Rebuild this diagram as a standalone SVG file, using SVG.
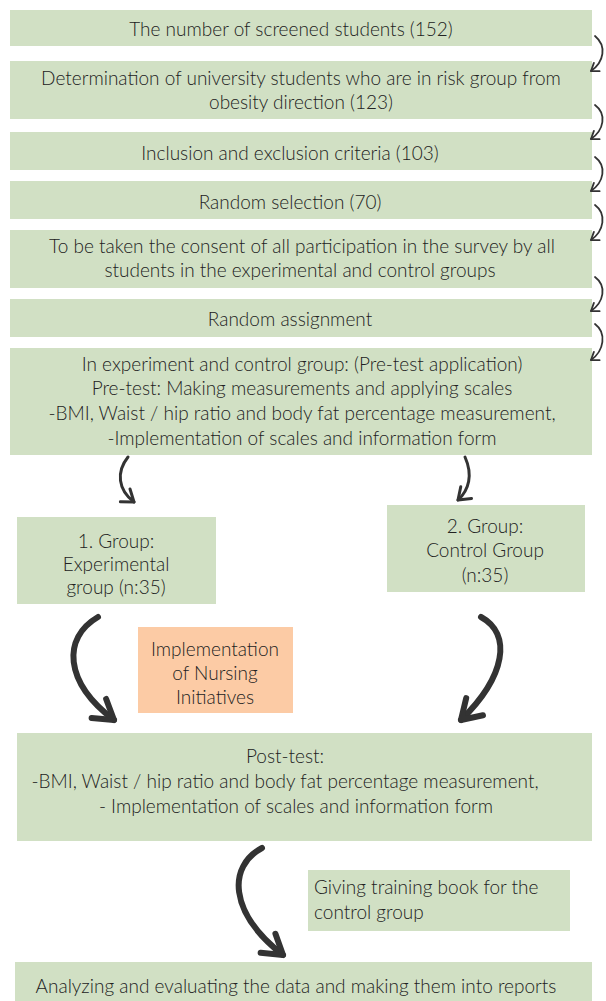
<svg xmlns="http://www.w3.org/2000/svg" width="606" height="1001" viewBox="0 0 606 1001">
  <style>
    .box { fill: #d1e0c4; }
    .note { fill: #fccba5; }
    text { font-family: Lato, "Liberation Sans", sans-serif; font-weight: 300; font-size: 19px; fill: #222; text-anchor: middle; dominant-baseline: central; }
    .left { text-anchor: start; }
    .thin { fill: none; stroke: #333; stroke-width: 1.8; stroke-linecap: round; }
    .mid { fill: none; stroke: #333; stroke-width: 3; stroke-linecap: round; }
    .thick { fill: none; stroke: #333; stroke-width: 6; stroke-linecap: round; }
  </style>
  <defs>
    <marker id="headS" markerUnits="userSpaceOnUse" viewBox="-10 -8 12 16" markerWidth="12" markerHeight="16" refX="0" refY="0" orient="auto">
      <path d="M-7,-5 L0,0 L-7,5" fill="none" stroke="#333" stroke-width="1.8" stroke-linecap="round" stroke-linejoin="round"/>
    </marker>
    <marker id="headM" markerUnits="userSpaceOnUse" viewBox="-14 -12 16 24" markerWidth="16" markerHeight="24" refX="0" refY="0" orient="auto">
      <path d="M-11,-8 L0,0 L-11,8" fill="none" stroke="#333" stroke-width="3" stroke-linecap="round" stroke-linejoin="round"/>
    </marker>
    <marker id="headL" markerUnits="userSpaceOnUse" viewBox="-24 -16 28 32" markerWidth="28" markerHeight="32" refX="0" refY="0" orient="auto">
      <path d="M-19,-12 L0,0 L-19,12" fill="none" stroke="#333" stroke-width="6" stroke-linecap="round" stroke-linejoin="round"/>
    </marker>
  </defs>

  <g id="screened">
    <rect class="box" x="10" y="10" width="582" height="36"/>
    <text x="291" y="28">The number of screened students (152)</text>
  </g>
  <g id="risk-group">
    <rect class="box" x="10" y="61" width="582" height="58"/>
    <text x="301" y="77">Determination of university students who are in risk group from</text>
    <text x="301" y="101">obesity direction (123)</text>
  </g>
  <g id="criteria">
    <rect class="box" x="10" y="132" width="582" height="38"/>
    <text x="290" y="152">Inclusion and exclusion criteria (103)</text>
  </g>
  <g id="random-selection">
    <rect class="box" x="10" y="181" width="582" height="38"/>
    <text x="290" y="201">Random selection (70)</text>
  </g>
  <g id="consent">
    <rect class="box" x="10" y="230" width="582" height="58"/>
    <text x="302" y="245">To be taken the consent of all participation in the survey by all</text>
    <text x="300" y="269">students in the experimental and control groups</text>
  </g>
  <g id="random-assignment">
    <rect class="box" x="10" y="299" width="582" height="38"/>
    <text x="290" y="318">Random assignment</text>
  </g>
  <g id="pre-test">
    <rect class="box" x="10" y="348" width="582" height="107"/>
    <text x="302" y="363">In experiment and control group: (Pre-test application)</text>
    <text x="302" y="387">Pre-test: Making measurements and applying scales</text>
    <text x="302" y="412">-BMI, Waist / hip ratio and body fat percentage measurement,</text>
    <text x="302" y="437">-Implementation of scales and information form</text>
  </g>
  <g id="experimental">
    <rect class="box" x="17" y="517" width="199" height="87"/>
    <text x="116" y="540">1. Group:</text>
    <text x="116" y="563">Experimental</text>
    <text x="116" y="586">group (n:35)</text>
  </g>
  <g id="control">
    <rect class="box" x="387" y="505" width="198" height="87"/>
    <text x="485" y="525">2. Group:</text>
    <text x="485" y="549">Control Group</text>
    <text x="485" y="574">(n:35)</text>
  </g>
  <g id="nursing">
    <rect class="note" x="138" y="627" width="155" height="86"/>
    <text x="215" y="648">Implementation</text>
    <text x="215" y="672">of Nursing</text>
    <text x="215" y="696">Initiatives</text>
  </g>
  <g id="post-test">
    <rect class="box" x="17" y="733" width="575" height="108"/>
    <text x="285" y="755">Post-test:</text>
    <text x="285" y="780">-BMI, Waist / hip ratio and body fat percentage measurement,</text>
    <text x="296" y="805">- Implementation of scales and information form</text>
  </g>
  <g id="training-book">
    <rect class="box" x="308" y="870" width="262" height="61"/>
    <text class="left" x="314" y="886">Giving training book for the</text>
    <text class="left" x="314" y="911">control group</text>
  </g>
  <g id="reports">
    <rect class="box" x="15" y="962" width="577" height="39"/>
    <text x="296" y="985">Analyzing and evaluating the data and making them into reports</text>
  </g>

  <g id="connectors">
    <path class="thin" marker-end="url(#headS)" d="M595,36 C607,46 604,62 591,71"/>
    <path class="thin" marker-end="url(#headS)" d="M595,105 C607,114 604,130 591,139"/>
    <path class="thin" marker-end="url(#headS)" d="M595,157 C607,166 604,182 591,191"/>
    <path class="thin" marker-end="url(#headS)" d="M595,205 C607,214 604,231 591,240"/>
    <path class="thin" marker-end="url(#headS)" d="M595,277 C607,286 604,302 591,311"/>
    <path class="thin" marker-end="url(#headS)" d="M595,324 C607,333 604,351 591,360"/>
    <path class="mid" marker-end="url(#headM)" d="M128,457 C116,472 118,490 134,502"/>
    <path class="mid" marker-end="url(#headM)" d="M465,457 C473,475 469,490 458,500"/>
    <path class="thick" marker-end="url(#headL)" d="M98,617 C62,638 64,682 114,720"/>
    <path class="thick" marker-end="url(#headL)" d="M481,617 C512,634 506,676 461,720"/>
    <path class="thick" marker-end="url(#headL)" d="M262,848 C228,866 228,912 283,955"/>
  </g>
</svg>
